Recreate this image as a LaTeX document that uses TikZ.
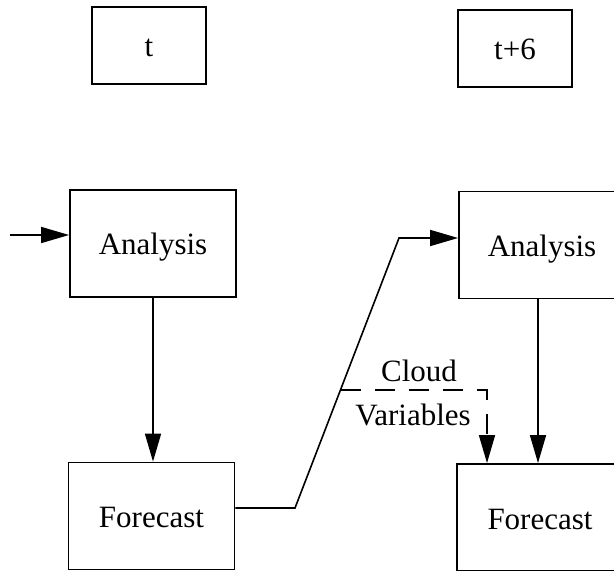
\documentclass[tikz,border=0pt]{standalone}
\usepackage{fontspec}
\setmainfont{Liberation Serif}
\usetikzlibrary{arrows.meta}
\begin{document}
\begin{tikzpicture}[x=0.5pt,y=-0.5pt,
  box/.style={draw,line width=0.9pt,inner sep=0pt,text height=11.5pt,text depth=0pt,
    font=\fontsize{15.5}{18}\selectfont},
  bigbox/.style={box,minimum width=83pt,minimum height=53.5pt},
  timebox/.style={box,minimum width=57pt,minimum height=38.5pt},
  flow/.style={line width=0.8pt,-{Triangle[length=14pt,width=8pt]}},
  lbl/.style={font=\fontsize{15.5}{18}\selectfont,inner sep=0pt,anchor=base}]
\useasboundingbox (0,0) rectangle (614,571);
\clip (0,0) rectangle (614,571);
% time labels
\node[timebox] (t0) at (149,45.5) {t};
\node[timebox] (t6) at (515,48.5) {t+6};
% analysis / forecast cycle
\node[bigbox] (la) at (153,243.5) {Analysis};
\node[bigbox] (lf) at (151.5,516) {Forecast};
\node[bigbox] (ra) at (542,245) {Analysis};
\node[bigbox] (rf) at (540,517.5) {Forecast};
% connector coordinates
\coordinate (in) at (10,235);
\coordinate (k1) at (295,508);
\coordinate (k2) at (399,238);
\coordinate (v2) at (538,298);
\coordinate (d0) at (341,390);
\coordinate (d1) at (487,390);
% connectors
\draw[flow] (in) -- (in -| la.west);
\draw[flow] (la.south) -- (la.south |- lf.north);
\draw[flow] (k1 -| lf.east) -- (k1) -- (k2) -- (k2 -| ra.west);
\draw[flow] (v2) -- (v2 |- rf.north);
\draw[flow,dash pattern=on 10pt off 7pt] (d0) -- (d1) -- (d1 |- rf.north);
% labels of the dashed link
\node[lbl] (cl) at (419,381) {Cloud};
\node[lbl] (cv) at (413,425) {Variables};
\end{tikzpicture}
\end{document}
